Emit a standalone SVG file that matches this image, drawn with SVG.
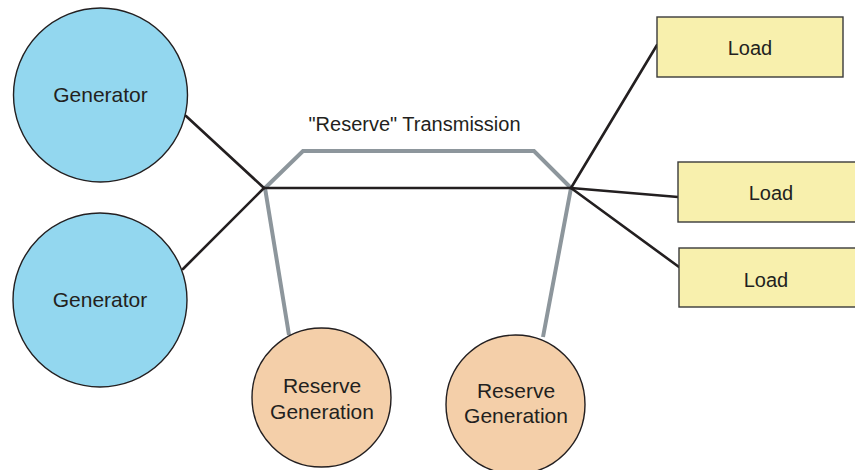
<svg xmlns="http://www.w3.org/2000/svg" width="855" height="470" viewBox="0 0 855 470">
  <style>
    .gen { fill: #93d7ef; stroke: #231f20; stroke-width: 1.4; }
    .res { fill: #f4cfa9; stroke: #231f20; stroke-width: 1.4; }
    .load { fill: #f8f0ad; stroke: #3a3a3a; stroke-width: 1.4; }
    .wire { fill: none; stroke: #231f20; stroke-width: 2.6; stroke-linecap: round; }
    .spare { fill: none; stroke: #8d969c; stroke-width: 4; stroke-linejoin: miter; }
    text { font-family: "Liberation Sans", Arial, sans-serif; font-size: 20px; fill: #231f20; text-anchor: middle; }
    .big { font-size: 21px; }
  </style>

  <rect width="855" height="470" fill="#ffffff"/>

  <!-- connectors -->
  <g id="connectors">
    <polyline class="spare" points="289,335 265,188 303,151 534,151 571,188 543,337"/>
    <line class="wire" x1="186" y1="116" x2="264" y2="188"/>
    <line class="wire" x1="183" y1="269" x2="264" y2="188"/>
    <line class="wire" x1="264" y1="188" x2="571" y2="188"/>
    <line class="wire" x1="571" y1="188" x2="657" y2="45"/>
    <line class="wire" x1="571" y1="188" x2="678" y2="197"/>
    <line class="wire" x1="571" y1="188" x2="679" y2="267"/>
  </g>

  <text x="414.5" y="131">"Reserve" Transmission</text>

  <g id="generator1">
    <circle class="gen" cx="100.5" cy="95" r="87"/>
    <text class="big" x="100.5" y="102">Generator</text>
  </g>
  <g id="generator2">
    <circle class="gen" cx="100" cy="300" r="87"/>
    <text class="big" x="100" y="307">Generator</text>
  </g>

  <g id="reserve1">
    <circle class="res" cx="321.5" cy="397.5" r="69.5"/>
    <text class="big" x="322" y="393">Reserve</text>
    <text class="big" x="322" y="419">Generation</text>
  </g>
  <g id="reserve2">
    <circle class="res" cx="515.5" cy="404.5" r="69.5"/>
    <text class="big" x="516" y="398">Reserve</text>
    <text class="big" x="516" y="423">Generation</text>
  </g>

  <g id="load1">
    <rect class="load" x="657" y="17" width="186" height="60"/>
    <text x="750" y="55">Load</text>
  </g>
  <g id="load2">
    <rect class="load" x="678" y="162" width="186" height="60"/>
    <text x="771" y="200">Load</text>
  </g>
  <g id="load3">
    <rect class="load" x="679" y="248" width="186" height="59"/>
    <text x="766" y="287">Load</text>
  </g>
</svg>
